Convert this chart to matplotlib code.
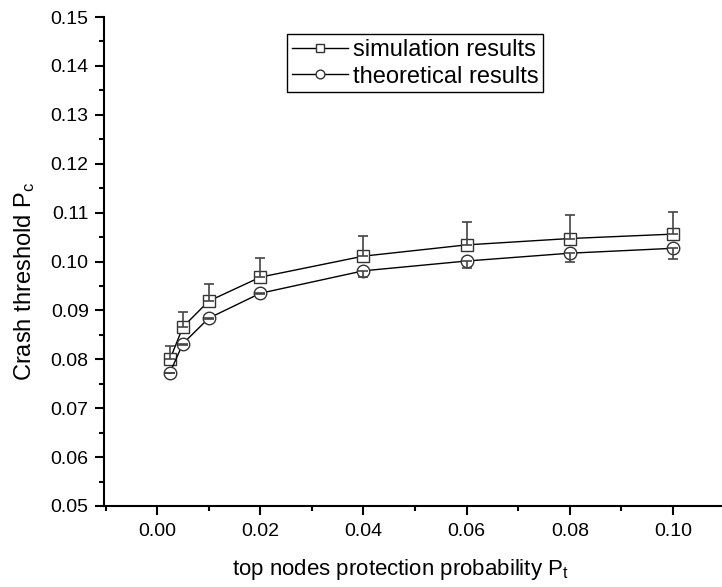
import numpy as np
import matplotlib
matplotlib.use('Agg')
import matplotlib.pyplot as plt
from matplotlib.ticker import MultipleLocator, FormatStrFormatter

plt.rcParams['font.family'] = ['Liberation Sans', 'DejaVu Sans']
plt.rcParams['mathtext.default'] = 'regular'

# data
p_t = [0.0025, 0.005, 0.01, 0.02, 0.04, 0.06, 0.08, 0.10]
sim = [0.0800, 0.0866, 0.0919, 0.0968, 0.1011, 0.1034, 0.1047, 0.1056]
sim_top = [0.0827, 0.0897, 0.0954, 0.1007, 0.1052, 0.1081, 0.1096, 0.1101]
theo = [0.0773, 0.0832, 0.0884, 0.0935, 0.0981, 0.1001, 0.1017, 0.1027]
theo_bottom = [0.0771, 0.0830, 0.0882, 0.0933, 0.0969, 0.0986, 0.0998, 0.1005]

x = np.array(p_t)
sim = np.array(sim)
theo = np.array(theo)
sim_err = [np.zeros(len(x)), np.array(sim_top) - sim]
theo_err = [theo - np.array(theo_bottom), np.zeros(len(x))]

fig = plt.figure(figsize=(7.22, 5.87), dpi=100)
ax = fig.add_axes([0.144, 0.138, 0.856, 0.833])

ax.plot(x, sim, color='black', lw=1.0, marker='s', ms=8, mfc='white',
        mec='#333333', mew=1.0, zorder=2, label='simulation results')
ax.plot(x, theo, color='black', lw=1.0, marker='o', ms=9, mfc='white',
        mec='#333333', mew=1.0, zorder=2, label='theoretical results')
ax.errorbar(x, sim, yerr=sim_err, fmt='none', ecolor='#444444', elinewidth=1.2,
            capsize=3.8, capthick=1.2, zorder=3)
ax.errorbar(x, theo, yerr=theo_err, fmt='none', ecolor='#444444', elinewidth=1.2,
            capsize=3.8, capthick=1.2, zorder=3)

ax.set_xlim(-0.0103, 0.1095)
ax.set_ylim(0.05, 0.15)
ax.xaxis.set_major_locator(MultipleLocator(0.02))
ax.xaxis.set_minor_locator(MultipleLocator(0.01))
ax.yaxis.set_major_locator(MultipleLocator(0.01))
ax.yaxis.set_minor_locator(MultipleLocator(0.005))
ax.xaxis.set_major_formatter(FormatStrFormatter('%.2f'))
ax.yaxis.set_major_formatter(FormatStrFormatter('%.2f'))

ax.spines['top'].set_visible(False)
ax.spines['right'].set_visible(False)
ax.spines['left'].set_linewidth(1.5)
ax.spines['bottom'].set_linewidth(1.5)
ax.tick_params(which='major', direction='out', length=6.5, width=1.5, labelsize=14)
ax.tick_params(which='minor', direction='out', length=3.5, width=1.5)
ax.tick_params(axis='x', which='major', pad=5.5)
ax.tick_params(axis='y', which='major', pad=4.5)

ax.set_xlabel('top nodes protection probability P$_t$', fontsize=16)
ax.set_ylabel('Crash threshold P$_c$', fontsize=17)
ax.xaxis.set_label_coords(0.48, -0.104)
ax.yaxis.set_label_coords(-0.108, 0.46)

leg = ax.legend(loc='upper left', bbox_to_anchor=(0.296, 0.965), fontsize=17,
                frameon=True, fancybox=False, framealpha=1, edgecolor='black',
                borderpad=0.2, handlelength=2.4, handletextpad=0.2,
                labelspacing=0.2, markerscale=0.7, borderaxespad=0)
leg.get_frame().set_linewidth(1.0)

fig.savefig('out.png', dpi=100)
